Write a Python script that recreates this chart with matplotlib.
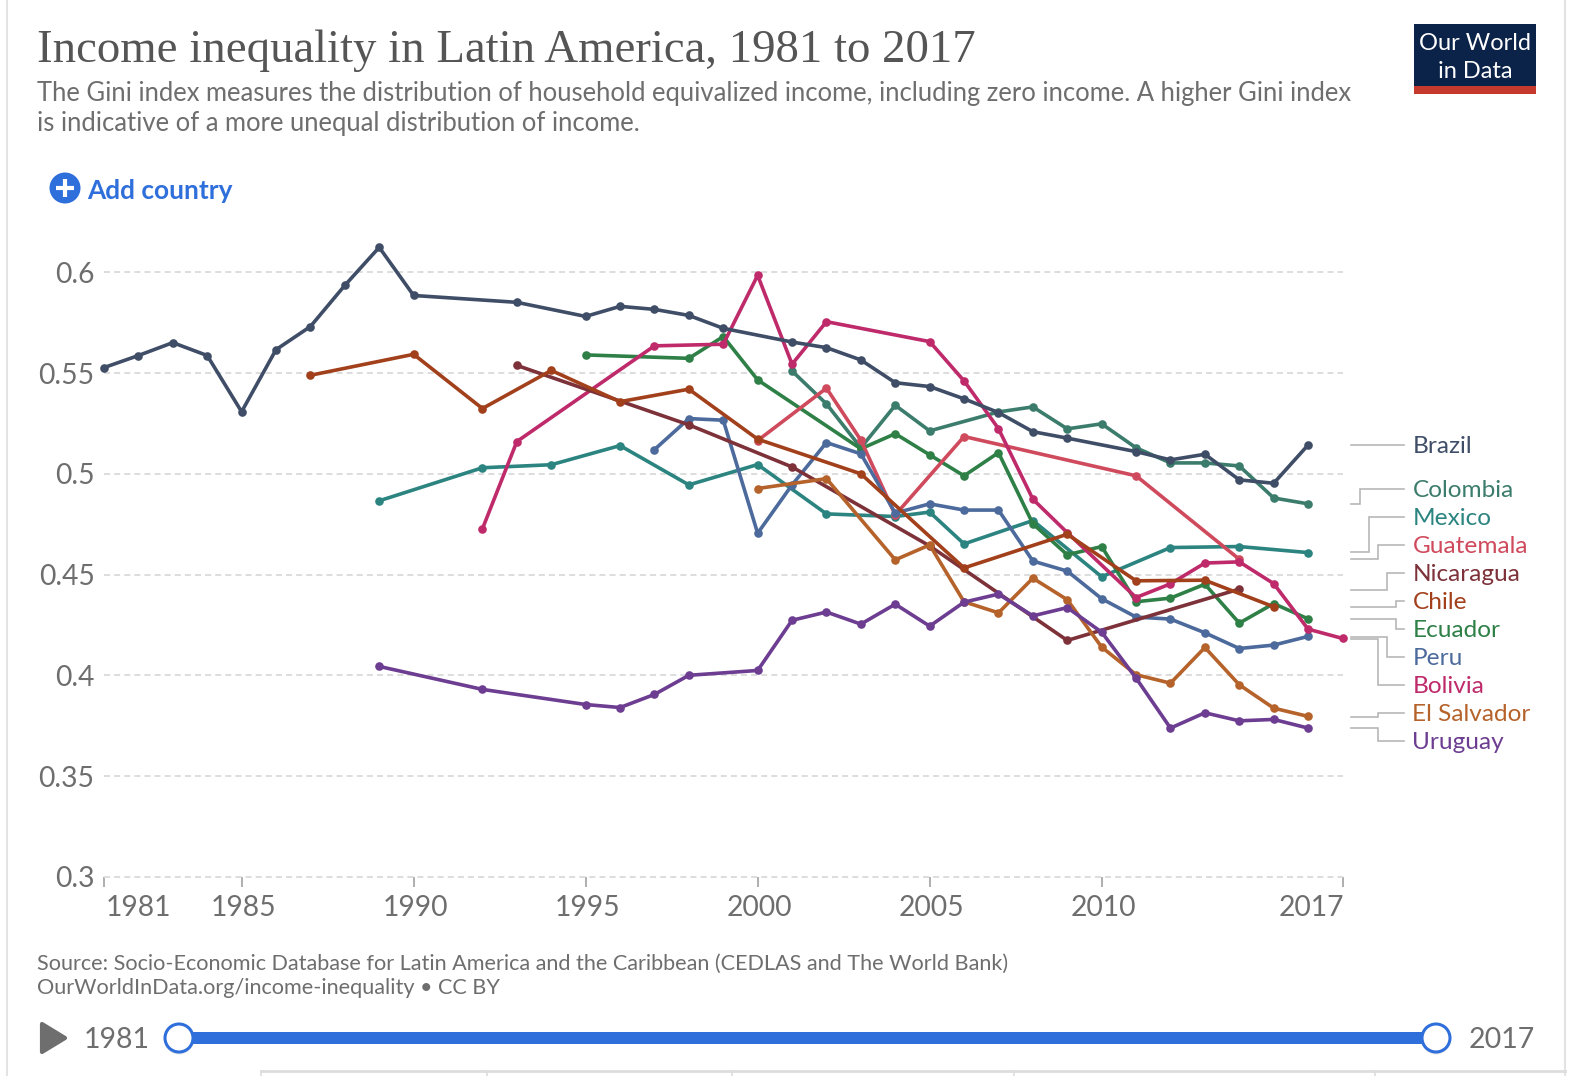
import matplotlib
matplotlib.use('Agg')
import matplotlib.pyplot as plt
from matplotlib.patches import Rectangle, Circle, Polygon

W, H = 1574, 1076

brazil_x = [1981, 1982, 1983, 1984, 1985, 1986, 1987, 1988, 1989, 1990, 1993, 1995, 1996, 1997, 1998, 1999, 2001, 2002, 2003, 2004, 2005, 2006, 2007, 2008, 2009, 2011, 2012, 2013, 2014, 2015, 2016]
brazil_y = [.5527, .5587, .5651, .5587, .5308, .5616, .5731, .5935, .6124, .5885, .5851, .5781, .5831, .5816, .5786, .5722, .5654, .5626, .5565, .5452, .5433, .5372, .5304, .5209, .5177, .5110, .5069, .5097, .4970, .4953, .5143]

colombia_x = [2001, 2002, 2003, 2004, 2005, 2007, 2008, 2009, 2010, 2011, 2012, 2013, 2014, 2015, 2016]
colombia_y = [.5510, .5347, .5129, .5340, .5213, .5307, .5332, .5223, .5248, .5129, .5054, .5054, .5039, .4880, .4851]

mexico_x = [1989, 1992, 1994, 1996, 1998, 2000, 2002, 2004, 2005, 2006, 2008, 2010, 2012, 2014, 2016]
mexico_y = [.4866, .5030, .5045, .5140, .4945, .5046, .4801, .4788, .4810, .4652, .4768, .4489, .4634, .4639, .4609]

guatemala_x = [2000, 2002, 2003, 2004, 2006, 2011, 2014]
guatemala_y = [.5165, .5425, .5167, .4796, .5185, .4990, .4576]

nicaragua_x = [1993, 1998, 2001, 2005, 2009, 2014]
nicaragua_y = [.5538, .5243, .5034, .4642, .4173, .4428]

chile_x = [1987, 1990, 1992, 1994, 1996, 1998, 2000, 2003, 2006, 2009, 2011, 2013, 2015]
chile_y = [.5489, .5593, .5324, .5513, .5358, .5420, .5172, .5000, .4533, .4700, .4469, .4472, .4340]

ecuador_x = [1995, 1998, 1999, 2000, 2003, 2004, 2005, 2006, 2007, 2008, 2009, 2010, 2011, 2012, 2013, 2014, 2015, 2016]
ecuador_y = [.5590, .5573, .5681, .5466, .5124, .5199, .5094, .4990, .5105, .4752, .4598, .4639, .4365, .4383, .4452, .4259, .4356, .4280]

peru_x = [1997, 1998, 1999, 2000, 2001, 2002, 2003, 2004, 2005, 2006, 2007, 2008, 2009, 2010, 2011, 2012, 2013, 2014, 2015, 2016]
peru_y = [.5120, .5274, .5266, .4705, .4945, .5155, .5099, .4805, .4851, .4820, .4820, .4567, .4517, .4380, .4289, .4279, .4211, .4133, .4150, .4193]

bolivia_x = [1992, 1993, 1997, 1999, 2000, 2001, 2002, 2005, 2006, 2007, 2008, 2009, 2011, 2012, 2013, 2014, 2015, 2016, 2017]
bolivia_y = [.4727, .5160, .5635, .5643, .5985, .5544, .5755, .5656, .5461, .5224, .4874, .4708, .4386, .4454, .4557, .4563, .4455, .4229, .4183]

salvador_x = [2000, 2002, 2004, 2005, 2006, 2007, 2008, 2009, 2010, 2011, 2012, 2013, 2014, 2015, 2016]
salvador_y = [.4927, .4976, .4573, .4647, .4365, .4310, .4482, .4375, .4140, .4003, .3961, .4138, .3953, .3837, .3796]

uruguay_x = [1989, 1992, 1995, 1996, 1997, 1998, 2000, 2001, 2002, 2003, 2004, 2005, 2006, 2007, 2008, 2009, 2010, 2011, 2012, 2013, 2014, 2015, 2016]
uruguay_y = [.4044, .3930, .3855, .3840, .3905, .4000, .4024, .4273, .4314, .4254, .4353, .4244, .4363, .4403, .4295, .4336, .4214, .3986, .3738, .3814, .3774, .3781, .3738]

y_ticks = [0.3, 0.35, 0.4, 0.45, 0.5, 0.55, 0.6]
y_tick_labels = ['0.3', '0.35', '0.4', '0.45', '0.5', '0.55', '0.6']
x_ticks = [1981, 1985, 1990, 1995, 2000, 2005, 2010, 2017]

# drawn in this order, last one on top
series = [
    ('Mexico', mexico_x, mexico_y, '#2c8480'),
    ('Colombia', colombia_x, colombia_y, '#3c7c6c'),
    ('Ecuador', ecuador_x, ecuador_y, '#2e8047'),
    ('Guatemala', guatemala_x, guatemala_y, '#cf4a5c'),
    ('Peru', peru_x, peru_y, '#4c6a9c'),
    ('Bolivia', bolivia_x, bolivia_y, '#be2a6a'),
    ('Nicaragua', nicaragua_x, nicaragua_y, '#7d3139'),
    ('El Salvador', salvador_x, salvador_y, '#b5622b'),
    ('Uruguay', uruguay_x, uruguay_y, '#6c3d91'),
    ('Brazil', brazil_x, brazil_y, '#3f4d67'),
    ('Chile', chile_x, chile_y, '#a2401c'),
]

plt.rcParams['font.family'] = ['Lato', 'DejaVu Sans']

fig = plt.figure(figsize=(W / 100, H / 100), dpi=100, facecolor='white')

# pixel overlay for the page furniture
bg = fig.add_axes([0, 0, 1, 1])
bg.set_xlim(0, W)
bg.set_ylim(H, 0)
bg.axis('off')

GREY = '#6e6e6e'
BLUE = '#2f6fdb'

# card edges
bg.plot([6.5, 6.5], [0, H], color='#e3e3e3', lw=1.5)
bg.plot([1565, 1565], [0, H], color='#e3e3e3', lw=1.5)
bg.plot([261, 1565], [1071, 1071], color='#dddddd', lw=2)
for x in [261, 487, 732, 1014, 1375]:
    bg.plot([x, x], [1071, H], color='#dddddd', lw=1.2)

bg.text(37, 51, 'Income inequality in Latin America, 1981 to 2017', family='Liberation Serif',
        fontsize=33.7, color='#555555', va='center', ha='left')
bg.text(37, 93, 'The Gini index measures the distribution of household equivalized income, including zero income. A higher Gini index',
        fontsize=18.45, color=GREY, va='center')
bg.text(37, 123, 'is indicative of a more unequal distribution of income.', fontsize=18.45, color=GREY, va='center')

# logo
bg.add_patch(Rectangle((1414, 24), 122, 62, color='#0b2349', lw=0))
bg.add_patch(Rectangle((1414, 86), 122, 8, color='#c4392c', lw=0))
bg.text(1475, 44, 'Our World', color='white', fontsize=17, ha='center', va='center')
bg.text(1475, 71, 'in Data', color='white', fontsize=17, ha='center', va='center')

# add country button
bg.add_patch(Circle((65, 188), 15.5, color=BLUE, lw=0))
bg.plot([56, 74], [188, 188], color='white', lw=3, solid_capstyle='butt')
bg.plot([65, 65], [179, 197], color='white', lw=3, solid_capstyle='butt')
bg.text(87, 191, 'Add country', color=BLUE, fontsize=18.9, fontweight='bold', va='center')

# footer
bg.text(37, 964, 'Source: Socio-Economic Database for Latin America and the Caribbean (CEDLAS and The World Bank)',
        fontsize=15.6, color=GREY, va='center')
bg.text(37, 988, 'OurWorldInData.org/income-inequality • CC BY', fontsize=15.6, color=GREY, va='center')

# time slider
bg.add_patch(Polygon([(42, 1024), (65, 1038), (42, 1052)], closed=True, facecolor=GREY, edgecolor=GREY,
                     lw=3, joinstyle='round'))
bg.text(84, 1040, '1981', fontsize=20.5, color=GREY, va='center')
bg.text(1469, 1040, '2017', fontsize=20.5, color=GREY, va='center')
bg.add_patch(Rectangle((179, 1032), 1257, 12, color=BLUE, lw=0))
for cx in [179, 1436]:
    bg.add_patch(Circle((cx, 1040), 14.5, facecolor='#e6e6e6', lw=0, zorder=2.5))
    bg.add_patch(Circle((cx, 1038), 14, facecolor='white', edgecolor=BLUE, lw=2.2, zorder=3))

# chart itself, axes box set so data lands on the reference pixels
x0, x1 = 104, 1342.5
y_top, y_bot = 272.3 - 20, 876.8
ax = fig.add_axes([x0 / W, 1 - y_bot / H, (x1 - x0) / W, (y_bot - y_top) / H])
ax.patch.set_alpha(0)
ax.set_xlim(1981, 2017)
ax.set_ylim(0.3, 0.6 + 20 * 0.05 / 100.75)
for s in ax.spines.values():
    s.set_visible(False)
ax.set_yticks(y_ticks)
ax.set_yticklabels(y_tick_labels)
ax.tick_params(axis='y', length=0, pad=6.8, labelsize=20.3, labelcolor=GREY)
ax.grid(axis='y', color='#dddddd', lw=1.4, ls=(0, (3.1, 2.1)), clip_on=False)
ax.set_axisbelow(True)

for name, xs, ys, color in series:
    ax.plot(xs, ys, color=color, lw=2.6, marker='o', ms=6.2, mew=0, clip_on=False,
            solid_joinstyle='round')

ax.set_xticks(x_ticks)
ax.set_xticklabels([])
ax.tick_params(axis='x', length=7.2, width=1.1, color='#999999', direction='out')

# year labels; first and last align to the ends
for yr in x_ticks:
    ha = 'left' if yr == 1981 else 'right' if yr == 2017 else 'center'
    ax.annotate(str(yr), (yr, 0.3), xytext=(1.5, -31), textcoords='offset pixels', ha=ha, va='center',
                fontsize=20.3, color=GREY)

# end labels with their leader lines
leaders = {
    'Brazil': [(1351, 445), (1404, 445)],
    'Colombia': [(1351, 504), (1360, 504), (1360, 489), (1404, 489)],
    'Mexico': [(1351, 552), (1369, 552), (1369, 517), (1404, 517)],
    'Guatemala': [(1351, 559), (1378, 559), (1378, 545), (1404, 545)],
    'Nicaragua': [(1351, 590), (1387, 590), (1387, 573), (1404, 573)],
    'Chile': [(1351, 607), (1396, 607), (1396, 601), (1404, 601)],
    'Ecuador': [(1351, 619), (1396, 619), (1396, 629), (1404, 629)],
    'Peru': [(1351, 637), (1387, 637), (1387, 657), (1404, 657)],
    'Bolivia': [(1351, 639), (1378, 639), (1378, 685), (1404, 685)],
    'El Salvador': [(1351, 717), (1378, 717), (1378, 713), (1404, 713)],
    'Uruguay': [(1351, 728), (1378, 728), (1378, 741), (1404, 741)],
}
for name, xs, ys, color in series:
    pts = leaders[name]
    bg.plot([p[0] for p in pts], [p[1] for p in pts], color='#b8b8b8', lw=1.2, solid_joinstyle='miter')
    bg.text(1412.5, pts[-1][1] + 1.5, name, color=color, fontsize=17.6, va='center', ha='left')

fig.savefig('out.png', dpi=100, facecolor='white')
